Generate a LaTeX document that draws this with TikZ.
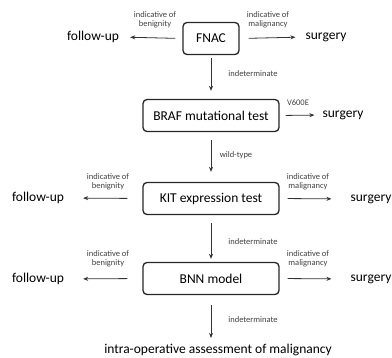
\documentclass[tikz,border=0pt]{standalone}
\usepackage{fontspec}
\setmainfont{Carlito}
\usetikzlibrary{arrows.meta}
\begin{document}
\begin{tikzpicture}[x=1pt,y=-1pt,
  box/.style={draw=black!85,line width=1.3pt,rounded corners=4pt,minimum height=32pt,inner sep=0pt,font=\fontsize{13.5}{15}\selectfont},
  outtext/.style={inner sep=0pt,font=\fontsize{13.5}{15}\selectfont},
  lbl/.style={inner sep=0pt,align=center,text=black!75,font=\fontsize{8.5}{9.5}\selectfont},
  arr/.style={draw=black!80,line width=0.8pt,-{Stealth[length=5pt,width=4pt]}}]
\useasboundingbox (0,0) rectangle (392,358);
\node[box,minimum width=56pt] (fnac) at (211,38.5) {FNAC};
\node[box,minimum width=136pt] (braf) at (211,115.5) {BRAF mutational test};
\node[box,minimum width=136pt] (kit) at (211,198.5) {KIT expression test};
\node[box,minimum width=136pt] (bnn) at (211,278.5) {BNN model};
\node[outtext] (fu1) at (93,37) {follow-up};
\node[outtext] (s1) at (326,37) {surgery};
\node[outtext] (s2) at (343,115) {surgery};
\node[outtext] (fu2) at (38,198) {follow-up};
\node[outtext] (s3) at (371,199) {surgery};
\node[outtext] (fu3) at (38,279) {follow-up};
\node[outtext] (s4) at (371,279) {surgery};
\node[outtext] (intra) at (218,350) {intra-operative assessment of malignancy};
% arrows
\draw[arr,shorten <=7pt,shorten >=11pt] (fnac.west) -- (fu1.east);
\draw[arr,shorten <=9pt,shorten >=10pt] (fnac.east) -- (s1.west);
\draw[arr,shorten <=3pt,shorten >=8pt] (fnac.south) -- (braf.north);
\draw[arr,shorten <=6pt,shorten >=8pt] (braf.east) -- (s2.west);
\draw[arr,shorten <=8pt,shorten >=10pt] (braf.south) -- (kit.north);
\draw[arr,shorten <=15pt,shorten >=19pt] (kit.west) -- (fu2.east);
\draw[arr,shorten <=8pt,shorten >=19pt] (kit.east) -- (s3.west);
\draw[arr,shorten <=8pt,shorten >=3pt] (kit.south) -- (bnn.north);
\draw[arr,shorten <=15pt,shorten >=19pt] (bnn.west) -- (fu3.east);
\draw[arr,shorten <=8pt,shorten >=19pt] (bnn.east) -- (s4.west);
\draw[arr,shorten <=10pt,shorten >=6pt] (bnn.south) -- (bnn.south |- intra.north);
% labels
\node[lbl] (l1) at (155,20) {indicative of\\benignity};
\node[lbl] (l2) at (268,20) {indicative of\\malignancy};
\node[lbl] (l3) at (253,74) {indeterminate};
\node[lbl] (l4) at (298,103) {V600E};
\node[lbl] (l5) at (236,155) {wild-type};
\node[lbl] (l6) at (108,182) {indicative of\\benignity};
\node[lbl] (l7) at (308,182) {indicative of\\malignancy};
\node[lbl] (l8) at (253,242) {indeterminate};
\node[lbl] (l9) at (108,259) {indicative of\\benignity};
\node[lbl] (l10) at (308,259) {indicative of\\malignancy};
\node[lbl] (l11) at (253,320) {indeterminate};
\end{tikzpicture}
\end{document}
